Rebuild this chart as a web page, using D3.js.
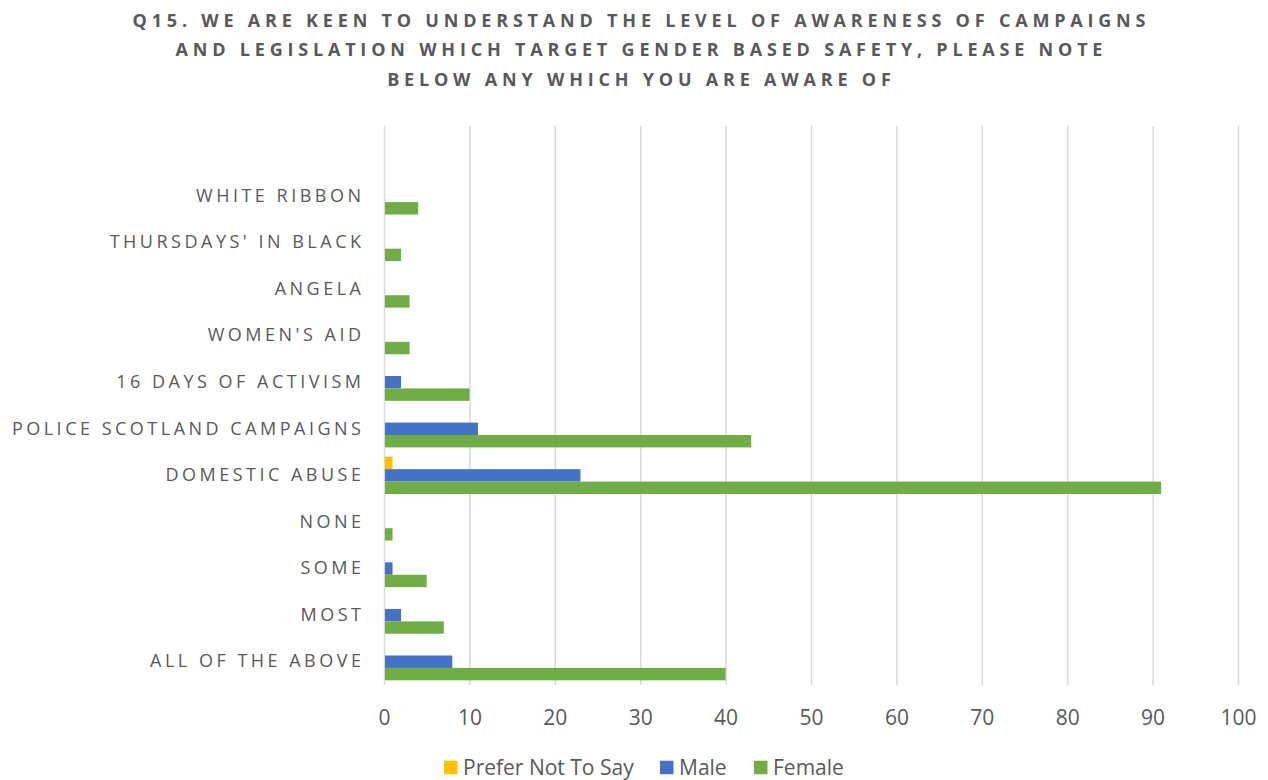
<!DOCTYPE html>
<html><head><meta charset="utf-8">
<script src="https://cdn.jsdelivr.net/npm/d3@7"></script>
<style>
html,body{margin:0;padding:0;background:#fff;}
svg{display:block;}
</style></head>
<body>
<svg id="chart" width="1268" height="780"></svg>
<script>
const titleLines = [
  "Q15. WE ARE KEEN TO UNDERSTAND THE LEVEL OF AWARENESS OF CAMPAIGNS",
  "AND LEGISLATION WHICH TARGET GENDER BASED SAFETY, PLEASE NOTE",
  "BELOW ANY WHICH YOU ARE AWARE OF"
];
const categories = ["", "WHITE RIBBON", "THURSDAYS' IN BLACK", "ANGELA", "WOMEN'S AID",
  "16 DAYS OF ACTIVISM", "POLICE SCOTLAND CAMPAIGNS", "DOMESTIC ABUSE", "NONE", "SOME", "MOST", "ALL OF THE ABOVE"];
const seriesNames = ["Prefer Not To Say", "Male", "Female"];
const preferNotToSay = [0, 0, 0, 0, 0, 0, 0, 1, 0, 0, 0, 0];
const male           = [0, 0, 0, 0, 0, 2, 11, 23, 0, 1, 2, 8];
const female         = [0, 4, 2, 3, 3, 10, 43, 91, 1, 5, 7, 40];
const xTicks = [0, 10, 20, 30, 40, 50, 60, 70, 80, 90, 100];
const colors = ["#FFC000", "#4472C4", "#70AD47"];

const seriesValues = [preferNotToSay, male, female];
const svg = d3.select("#chart");
const textColor = "#595959";
const gridColor = "#d9d9d9";
const font = "'Open Sans', sans-serif";

const x = d3.scaleLinear().domain([0, 100]).range([384, 1238]);
const y = d3.scaleBand().domain(categories).range([126, 685]).paddingInner(0.2).paddingOuter(0.1);
const ySub = d3.scaleBand().domain(seriesNames).range([0, y.bandwidth()]);

// title
const titleSpacing = 4.8;
svg.append("g").selectAll("text").data(titleLines).join("text")
  .attr("x", 639 + titleSpacing / 2).attr("y", (d, i) => 26.5 + i * 29.5)
  .attr("text-anchor", "middle")
  .attr("font-family", font)
  .attr("font-weight", "bold").attr("font-size", 18)
  .attr("letter-spacing", titleSpacing + "px")
  .attr("fill", textColor)
  .text(d => d);

// gridlines + x tick labels
const xAxis = d3.axisBottom(x).tickValues(xTicks).tickSize(-(685 - 126)).tickPadding(25);
const gx = svg.append("g").attr("transform", "translate(0,685)").call(xAxis);
gx.select(".domain").remove();
gx.selectAll(".tick line").attr("stroke", gridColor).attr("stroke-width", 1.5);
gx.selectAll(".tick text").attr("fill", textColor)
  .attr("font-family", font).attr("font-size", 21);

// bars
const groups = svg.append("g").selectAll("g").data(categories).join("g")
  .attr("transform", d => `translate(0,${y(d)})`);
groups.selectAll("rect")
  .data((d, ci) => seriesNames.map((s, si) => ({s, si, v: seriesValues[si][ci]})))
  .join("rect")
  .attr("x", x(0) + 1)
  .attr("y", d => ySub(d.s))
  .attr("height", ySub.bandwidth())
  .attr("width", d => Math.max(0, x(d.v) - x(0) - 1))
  .attr("fill", d => colors[d.si]);

// category labels
const labelSpacing = 3.5;
const yAxis = d3.axisLeft(y).tickSize(0).tickPadding(23 - labelSpacing);
const gy = svg.append("g").attr("transform", `translate(${x(0)},0)`).call(yAxis);
gy.select(".domain").remove();
gy.selectAll(".tick text").attr("fill", textColor)
  .attr("font-family", font).attr("font-size", 18)
  .attr("letter-spacing", labelSpacing + "px");

// legend
const legendX = [444, 660, 754];
const lg = svg.append("g").selectAll("g").data(seriesNames).join("g")
  .attr("transform", (d, i) => `translate(${legendX[i]},767.5)`);
lg.append("rect").attr("x", 0).attr("y", -6.75).attr("width", 13.5).attr("height", 13.5)
  .attr("fill", (d, i) => colors[i]);
lg.append("text").attr("x", 19).attr("y", 0).attr("dy", "0.35em")
  .attr("font-family", font).attr("font-size", 21)
  .attr("fill", textColor).text(d => d);
</script>
</body></html>
